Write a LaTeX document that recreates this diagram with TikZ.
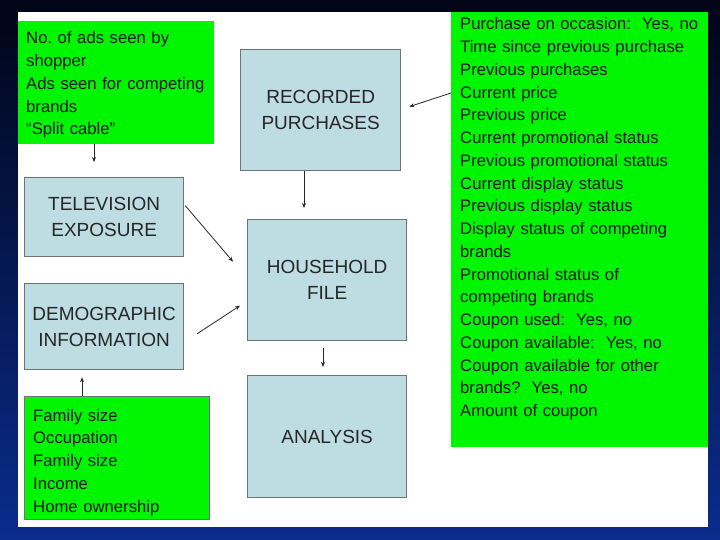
\documentclass[tikz,border=0pt]{standalone}
\usepackage{fontspec}
\setmainfont{Liberation Sans}
\usetikzlibrary{arrows.meta,calc}
\definecolor{bgtop}{RGB}{0,4,22}
\definecolor{bgmid}{RGB}{6,30,110}
\definecolor{bgbot}{RGB}{10,44,140}
\definecolor{boxgreen}{RGB}{0,245,0}
\definecolor{boxblue}{RGB}{189,221,227}
\definecolor{boxline}{RGB}{110,115,115}
\definecolor{arrowcol}{RGB}{40,40,40}
\frenchspacing
\begin{document}
\begin{tikzpicture}[x=1pt,y=-1pt,
  bluebox/.style={draw=boxline, line width=1.3pt, fill=boxblue, align=center,
    font=\fontsize{19}{26}\selectfont, text=black!85, inner sep=0pt, anchor=north west},
  greenbox/.style={fill=boxgreen, inner sep=0pt, anchor=north west},
  listtext/.style={font=\fontsize{16.7}{22.75}\selectfont, align=left, text width=260pt,
    inner sep=0pt, anchor=base west, text=black!90},
  arr/.style={draw=arrowcol, line width=0.8pt, -{Stealth[length=5pt,width=4pt]}}]
\useasboundingbox (0,0) rectangle (720,540);
\shade[top color=bgtop, middle color=bgmid, bottom color=bgbot] (0,0) rectangle (720,540);
\fill[white] (18,12) rectangle (708,527);

% green boxes
\node[greenbox, minimum width=196pt, minimum height=123pt] (g1) at (18,21) {};
\node[greenbox, minimum width=257pt, minimum height=435pt] (g2) at (451,12) {};
\node[greenbox, draw=boxline, line width=1.3pt, minimum width=185pt, minimum height=123pt] (g3) at (24,396) {};

\node[listtext] (g1t) at (26,44) {No. of ads seen by\\shopper\\Ads seen for competing\\brands\\“Split cable”};
\node[listtext] (g2t) at (460,30) {Purchase on occasion:\ \ Yes, no\\Time since previous purchase\\Previous purchases\\Current price\\Previous price\\Current promotional status\\Previous promotional status\\Current display status\\Previous display status\\Display status of competing\\brands\\Promotional status of\\competing brands\\Coupon used:\ \ Yes, no\\Coupon available:\ \ Yes, no\\Coupon available for other\\brands?\ \ Yes, no\\Amount of coupon};
\node[listtext] (g3t) at (33,421) {Family size\\Occupation\\Family size\\Income\\Home ownership};

% blue boxes
\node[bluebox, minimum width=159pt, minimum height=79pt] (tv) at (24,177) {TELEVISION\\EXPOSURE};
\node[bluebox, minimum width=159pt, minimum height=86pt] (dem) at (24,283) {DEMOGRAPHIC\\INFORMATION};
\node[bluebox, minimum width=160pt, minimum height=121pt] (rec) at (240,49) {RECORDED\\PURCHASES};
\node[bluebox, minimum width=159pt, minimum height=121pt] (hh) at (247,219) {HOUSEHOLD\\FILE};
\node[bluebox, minimum width=159pt, minimum height=122pt] (an) at (247,375) {ANALYSIS};

% helper x positions
\coordinate (x1) at (94,0);
\coordinate (x2) at (304,0);
\coordinate (x5) at (323,0);
\coordinate (x6) at (82,0);

% connectors
\draw[arr, shorten >=15pt] (g1.south -| x1) -- (tv.north -| x1);
\draw[arr, shorten >=11pt] (rec.south -| x2) -- (hh.north -| x2);
\draw[arr] ($(tv.east)+(1,-11.5)$) -- ($(hh.west)+(-14,-18.5)$);
\draw[arr] ($(dem.east)+(13,7)$) -- ($(hh.west)+(-7,25.5)$);
\draw[arr, shorten <=7pt, shorten >=8pt] (hh.south -| x5) -- (an.north -| x5);
\draw[arr, shorten >=7pt] (g3.north -| x6) -- (dem.south -| x6);
\draw[arr] (g2.west |- 0,93) -- ($(rec.east)+(8,-3.5)$);
\end{tikzpicture}
\end{document}
